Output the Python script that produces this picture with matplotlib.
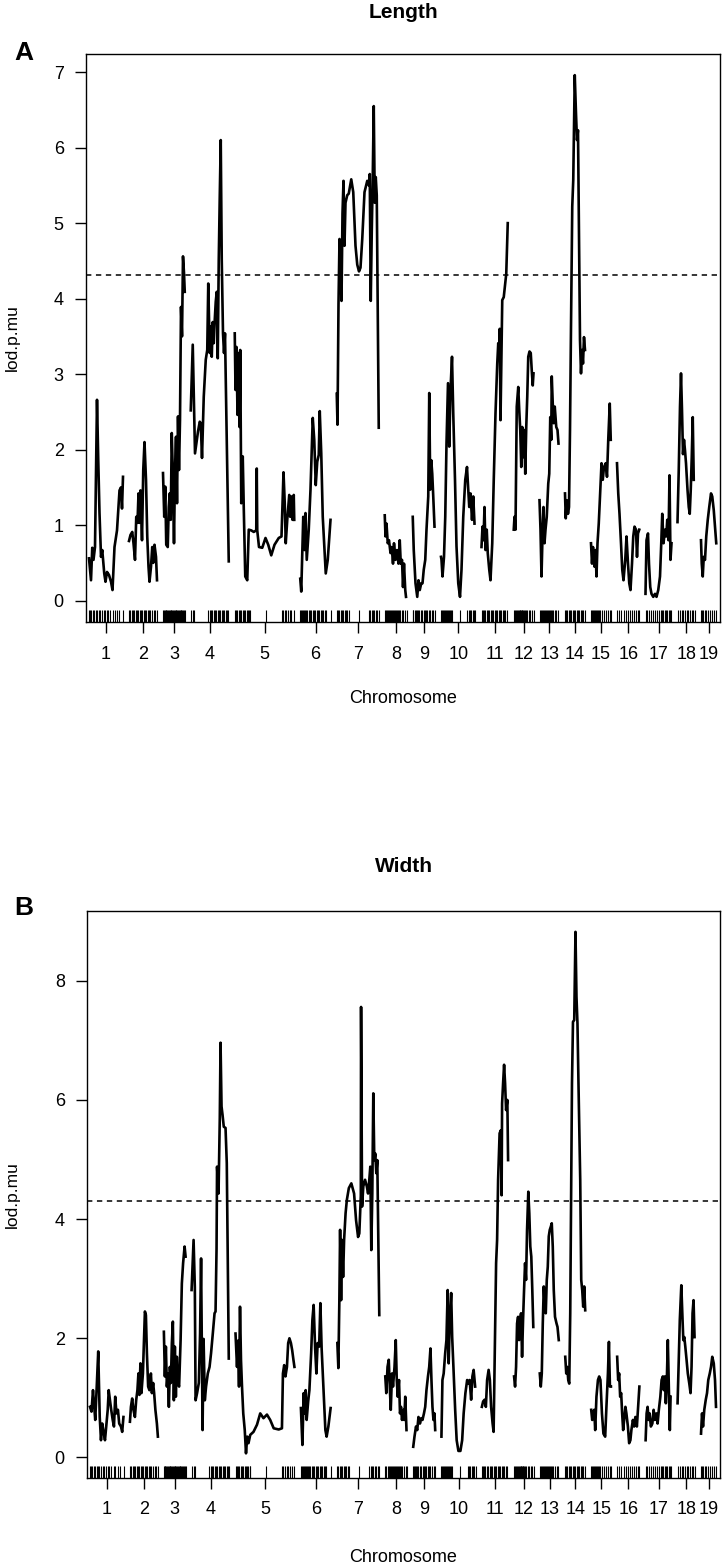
import numpy as np
import matplotlib
matplotlib.use('Agg')
import matplotlib.pyplot as plt

plt.rcParams['font.family'] = ['Liberation Sans', 'DejaVu Sans']

# chromosome layout (cM) and LOD threshold
chrom_names = [str(i) for i in range(1, 20)]
chrom_len = [136, 112, 87, 152, 238, 122, 168, 88, 89, 138, 105, 79, 78, 80, 80, 90, 104, 70, 64]
gap = 24
threshold = 4.31

# panel A : Length  (positions in cM within chromosome, lod.p.mu)
length_pos = [
    [0, 8, 13, 18, 24, 32, 37, 42, 48, 53, 61, 66, 72, 80, 88, 94, 102, 112, 122, 128, 132, 136],
    [0, 6, 13, 18, 24, 29, 34, 38, 42, 46, 52, 57, 62, 68, 73, 78, 82, 88, 93, 97, 102, 108, 112],
    [0, 5, 9, 13, 19, 23, 27, 31, 35, 39, 44, 48, 52, 56, 60, 64, 68, 72, 76, 80, 84, 87],
    [0, 8, 17, 29, 36, 40, 45, 52, 60, 66, 70, 76, 80, 84, 88, 92, 96, 100, 104, 108, 112, 116, 120, 124, 129, 133, 137, 152],
    [0, 3, 7, 11, 15, 19, 22, 26, 32, 36, 42, 50, 56, 66, 76, 86, 88, 90, 97, 110, 123, 134, 146, 159, 176, 187, 195, 200, 204, 210, 218, 222, 226, 231, 236, 238],
    [0, 4, 12, 17, 21, 26, 34, 41, 50, 56, 62, 68, 74, 78, 84, 90, 102, 110, 121],
    [0, 3, 7, 11, 15, 19, 23, 27, 31, 35, 42, 48, 58, 66, 75, 82, 89, 95, 102, 111, 122, 129, 132, 136, 140, 144, 148, 152, 156, 160, 168],
    [0, 3, 7, 12, 17, 23, 28, 33, 37, 43, 49, 55, 60, 64, 69, 73, 77, 82, 85],
    [0, 4, 11, 18, 23, 28, 34, 39, 44, 50, 55, 62, 66, 70, 74, 78, 82, 87],
    [0, 2, 6, 12, 17, 22, 28, 33, 38, 44, 49, 56, 62, 69, 76, 82, 89, 97, 104, 109, 113, 118, 124, 129, 134],
    [0, 4, 8, 12, 16, 21, 25, 31, 36, 43, 49, 56, 63, 67, 71, 73, 76, 83, 89, 99, 105],
    [0, 3, 7, 12, 18, 22, 26, 30, 34, 38, 42, 46, 50, 54, 58, 63, 68, 72, 76, 79],
    [0, 4, 8, 12, 16, 20, 24, 29, 35, 39, 43, 47, 49, 53, 57, 61, 67, 72, 76],
    [0, 3, 7, 12, 16, 20, 24, 29, 33, 39, 44, 48, 52, 60, 64, 68, 72, 76, 80],
    [0, 4, 8, 14, 18, 22, 26, 31, 36, 42, 47, 52, 59, 64, 69, 75, 79],
    [0, 5, 10, 16, 21, 26, 33, 38, 44, 49, 54, 60, 65, 70, 76, 80, 84, 89],
    [0, 4, 10, 14, 19, 24, 31, 38, 44, 51, 58, 63, 67, 72, 78, 83, 87, 92, 96, 100, 104],
    [0, 5, 10, 14, 18, 22, 26, 30, 34, 40, 45, 49, 53, 57, 61, 65],
    [0, 3, 7, 11, 16, 21, 27, 33, 40, 45, 51, 56, 61],
]
length_lod = [
    [0.56, 0.27, 0.70, 0.54, 0.71, 2.66, 1.86, 1.16, 0.58, 0.67, 0.36, 0.25, 0.38, 0.34, 0.25, 0.14, 0.71, 0.93, 1.46, 1.50, 1.22, 1.64],
    [0.79, 0.87, 0.91, 0.76, 0.54, 1.11, 1.03, 1.42, 1.03, 1.46, 0.80, 1.73, 2.10, 1.60, 0.85, 0.45, 0.25, 0.45, 0.71, 0.50, 0.74, 0.58, 0.27],
    [1.69, 1.11, 1.51, 0.74, 0.71, 1.24, 1.42, 1.07, 2.22, 1.73, 0.76, 1.73, 2.17, 1.29, 2.44, 1.73, 2.39, 3.89, 3.50, 4.56, 4.34, 4.09],
    [2.52, 3.39, 1.95, 2.24, 2.37, 2.35, 1.89, 2.70, 3.19, 3.32, 4.20, 3.28, 3.63, 3.23, 3.69, 3.41, 3.72, 3.96, 4.09, 3.21, 4.51, 5.35, 6.10, 4.51, 3.54, 3.28, 3.54, 0.52],
    [3.54, 2.79, 3.36, 2.46, 3.28, 2.30, 3.32, 1.29, 1.91, 1.24, 0.32, 0.27, 0.94, 0.93, 0.91, 0.93, 1.75, 0.93, 0.71, 0.70, 0.83, 0.74, 0.60, 0.74, 0.83, 0.85, 1.70, 1.29, 0.76, 1.07, 1.40, 1.11, 1.38, 1.07, 1.40, 1.07],
    [0.29, 0.12, 1.11, 0.67, 1.16, 0.54, 0.94, 1.47, 2.42, 2.13, 1.53, 1.84, 1.93, 2.51, 1.95, 1.11, 0.36, 0.54, 1.07],
    [2.74, 2.33, 3.93, 4.79, 4.41, 3.97, 5.13, 5.56, 4.70, 5.27, 5.37, 5.39, 5.58, 5.41, 4.70, 4.45, 4.36, 4.41, 4.79, 5.41, 5.56, 5.50, 5.65, 3.97, 4.88, 5.61, 6.55, 5.27, 5.61, 5.37, 2.29],
    [1.13, 0.85, 1.02, 0.76, 0.80, 0.63, 0.71, 0.49, 0.76, 0.54, 0.67, 0.49, 0.80, 0.49, 0.54, 0.18, 0.49, 0.14, 0.05],
    [1.11, 0.67, 0.23, 0.05, 0.27, 0.14, 0.23, 0.23, 0.41, 0.54, 0.94, 1.38, 2.75, 1.47, 1.86, 1.68, 1.38, 0.98],
    [0.58, 0.54, 0.32, 0.58, 1.11, 2.08, 2.88, 2.04, 2.79, 3.23, 2.48, 1.60, 0.72, 0.23, 0.05, 0.41, 1.11, 1.60, 1.77, 1.47, 1.24, 1.42, 1.07, 1.38, 1.02],
    [0.71, 0.98, 0.80, 1.24, 0.67, 0.94, 0.63, 0.41, 0.27, 0.76, 1.60, 2.48, 3.14, 3.41, 3.19, 3.60, 2.39, 3.98, 4.02, 4.33, 5.00],
    [0.94, 1.11, 0.94, 2.57, 2.83, 2.52, 2.26, 1.77, 2.30, 1.90, 2.26, 1.68, 2.30, 2.70, 3.23, 3.30, 3.28, 3.05, 2.85, 3.01],
    [1.33, 0.94, 0.32, 0.85, 1.24, 0.76, 0.94, 1.11, 1.55, 1.68, 2.43, 2.13, 2.97, 2.61, 2.35, 2.57, 2.30, 2.26, 2.08],
    [1.42, 1.09, 1.33, 1.15, 1.24, 2.26, 3.63, 5.22, 5.57, 6.96, 6.45, 6.10, 6.23, 3.45, 3.01, 3.32, 3.14, 3.49, 3.32],
    [0.76, 0.49, 0.71, 0.45, 0.67, 0.32, 0.76, 1.02, 1.38, 1.82, 1.60, 1.77, 1.82, 1.64, 2.13, 2.61, 2.13],
    [1.82, 1.42, 1.15, 0.76, 0.41, 0.27, 0.54, 0.85, 0.49, 0.23, 0.14, 0.49, 0.85, 0.98, 0.94, 0.58, 0.89, 0.94],
    [0.09, 0.80, 0.89, 0.49, 0.18, 0.09, 0.05, 0.09, 0.05, 0.14, 0.32, 0.76, 1.15, 0.76, 0.94, 0.85, 1.07, 0.80, 1.66, 0.54, 0.76],
    [1.04, 1.73, 2.57, 3.01, 2.52, 1.94, 2.13, 1.99, 1.82, 1.47, 1.24, 1.15, 1.47, 1.90, 2.43, 1.60],
    [0.80, 0.49, 0.32, 0.58, 0.54, 0.85, 1.07, 1.24, 1.42, 1.38, 1.20, 0.98, 0.76],
]

# panel B : Width
width_pos = [
    [0, 6, 12, 17, 21, 27, 33, 39, 44, 49, 55, 60, 65, 71, 75, 80, 85, 91, 96, 101, 106, 112, 117, 124, 129, 134],
    [0, 4, 9, 14, 20, 25, 30, 34, 38, 42, 46, 52, 60, 64, 68, 73, 78, 84, 88, 93, 97, 102, 108, 112],
    [0, 4, 8, 12, 16, 20, 24, 28, 32, 36, 40, 44, 48, 52, 56, 61, 67, 72, 77, 83, 87],
    [0, 8, 13, 16, 22, 29, 34, 38, 44, 48, 53, 58, 65, 72, 78, 85, 92, 96, 100, 102, 108, 113, 116, 120, 124, 129, 136, 141, 149],
    [0, 6, 10, 14, 18, 22, 26, 31, 37, 42, 47, 52, 59, 72, 86, 99, 112, 126, 139, 153, 173, 186, 190, 195, 200, 206, 211, 216, 222, 227, 232, 236],
    [0, 6, 11, 15, 19, 23, 29, 34, 41, 46, 51, 57, 62, 67, 73, 78, 83, 90, 98, 103, 110, 119],
    [0, 4, 8, 11, 15, 19, 23, 27, 33, 38, 46, 56, 67, 75, 83, 88, 94, 95, 99, 104, 111, 118, 123, 128, 132, 136, 140, 144, 148, 152, 156, 160, 168],
    [0, 4, 9, 14, 18, 22, 27, 31, 37, 42, 46, 50, 55, 59, 63, 67, 72, 76, 80, 85],
    [0, 5, 11, 16, 21, 27, 32, 37, 43, 48, 53, 59, 64, 69, 73, 77, 81, 85, 88],
    [0, 4, 9, 15, 20, 25, 29, 33, 39, 43, 48, 55, 61, 68, 76, 83, 89, 96, 103, 108, 113, 119, 124, 129, 135],
    [0, 5, 11, 16, 21, 27, 32, 37, 43, 47, 52, 57, 61, 65, 71, 76, 79, 81, 85, 89, 93, 97, 102, 105],
    [0, 4, 8, 12, 16, 20, 24, 28, 32, 36, 40, 44, 48, 52, 57, 61, 65, 69, 73, 77],
    [0, 4, 8, 12, 16, 20, 24, 28, 32, 36, 40, 44, 48, 52, 56, 61, 67, 71, 76],
    [0, 4, 8, 12, 16, 20, 24, 27, 31, 36, 41, 45, 49, 53, 60, 64, 68, 72, 76, 80],
    [0, 4, 8, 12, 16, 21, 27, 32, 37, 43, 49, 56, 61, 67, 71, 75, 79],
    [0, 4, 8, 12, 16, 20, 24, 28, 33, 37, 43, 48, 53, 57, 63, 68, 73, 79, 84, 89],
    [0, 4, 8, 12, 16, 21, 27, 32, 37, 43, 48, 53, 59, 64, 69, 73, 77, 81, 85, 89, 93, 97, 100],
    [0, 4, 9, 15, 19, 23, 27, 31, 36, 41, 47, 52, 56, 60, 64, 68],
    [0, 4, 8, 13, 19, 24, 29, 35, 40, 45, 51, 56, 60],
]
width_lod = [
    [0.85, 0.77, 1.13, 0.85, 0.63, 1.19, 1.78, 0.68, 0.29, 0.57, 0.41, 0.29, 0.52, 0.80, 1.13, 0.96, 0.80, 0.63, 0.52, 1.02, 0.74, 0.80, 0.57, 0.52, 0.43, 0.68],
    [0.60, 0.85, 0.99, 0.80, 0.68, 0.96, 1.13, 1.41, 1.05, 1.58, 1.08, 1.41, 2.45, 2.39, 1.75, 1.19, 1.13, 1.41, 1.08, 1.25, 1.08, 0.80, 0.57, 0.35],
    [2.11, 1.36, 1.86, 1.19, 1.41, 0.85, 1.52, 1.25, 1.92, 2.28, 0.96, 1.86, 1.02, 1.69, 1.25, 1.19, 1.97, 2.92, 3.26, 3.54, 3.37],
    [2.81, 3.65, 2.86, 0.96, 1.08, 1.25, 2.08, 3.34, 0.46, 1.99, 0.96, 1.19, 1.41, 1.52, 1.75, 2.08, 2.42, 2.45, 3.50, 4.88, 4.43, 5.70, 6.96, 5.89, 5.75, 5.55, 5.53, 4.94, 1.66],
    [2.08, 1.52, 1.96, 1.19, 2.53, 1.63, 1.19, 0.74, 0.46, 0.07, 0.35, 0.24, 0.38, 0.43, 0.55, 0.74, 0.66, 0.72, 0.63, 0.49, 0.47, 0.49, 1.41, 1.55, 1.36, 1.52, 1.92, 2.00, 1.92, 1.80, 1.64, 1.52],
    [0.83, 0.21, 1.08, 0.74, 1.13, 0.63, 0.94, 1.13, 1.75, 2.31, 2.56, 1.83, 1.41, 1.92, 1.86, 2.59, 1.83, 1.19, 0.46, 0.35, 0.52, 0.83],
    [1.92, 1.50, 2.64, 3.82, 2.64, 3.65, 3.03, 3.65, 4.10, 4.32, 4.52, 4.60, 4.43, 3.98, 3.70, 3.76, 4.39, 7.56, 4.21, 4.55, 4.66, 4.55, 4.43, 4.66, 4.88, 3.48, 4.43, 6.11, 4.99, 5.10, 4.77, 4.99, 2.39],
    [1.36, 1.08, 1.52, 1.64, 1.19, 0.80, 1.41, 1.19, 1.52, 1.97, 1.30, 1.02, 1.30, 0.74, 0.85, 0.63, 0.80, 0.63, 1.02, 0.46],
    [0.18, 0.35, 0.52, 0.46, 0.68, 0.57, 0.66, 0.63, 0.74, 0.85, 1.13, 1.36, 1.52, 1.83, 1.30, 0.85, 0.63, 0.74, 0.46],
    [0.35, 1.30, 1.41, 1.75, 1.97, 2.81, 1.58, 2.25, 2.76, 2.02, 1.52, 0.80, 0.29, 0.11, 0.11, 0.29, 0.74, 1.08, 1.30, 1.24, 1.30, 0.97, 1.36, 1.47, 1.19],
    [0.85, 0.94, 0.97, 0.85, 1.30, 1.47, 1.30, 0.85, 0.57, 0.43, 1.86, 3.26, 3.65, 4.66, 5.44, 5.49, 4.40, 5.94, 6.28, 6.59, 6.28, 5.83, 6.00, 4.99],
    [1.36, 1.19, 1.52, 2.25, 2.36, 1.97, 2.31, 2.42, 1.69, 2.31, 2.81, 3.26, 2.98, 3.82, 4.46, 4.10, 3.54, 3.37, 2.81, 2.19],
    [1.41, 1.19, 1.41, 2.25, 2.87, 2.53, 2.42, 2.98, 3.20, 3.71, 3.82, 3.87, 3.93, 3.54, 2.81, 2.36, 2.25, 2.19, 1.97],
    [1.69, 1.41, 1.52, 1.30, 1.24, 2.42, 4.66, 6.28, 7.31, 7.34, 8.82, 7.73, 7.28, 6.28, 4.66, 2.98, 2.81, 2.53, 2.87, 2.47],
    [0.80, 0.63, 0.74, 0.80, 0.46, 1.02, 1.30, 1.36, 1.30, 0.74, 0.40, 0.35, 0.85, 1.41, 1.94, 1.19, 1.19],
    [1.69, 1.30, 1.41, 1.02, 1.08, 0.74, 0.46, 0.63, 0.85, 0.74, 0.52, 0.24, 0.29, 0.46, 0.63, 0.52, 0.68, 0.52, 0.85, 1.19],
    [0.29, 0.74, 0.85, 0.63, 0.74, 0.52, 0.57, 0.80, 0.63, 0.74, 0.57, 0.80, 1.02, 1.30, 1.36, 1.13, 1.36, 0.91, 1.30, 1.97, 1.19, 0.46, 1.02],
    [0.91, 1.52, 2.31, 2.89, 2.42, 1.97, 2.02, 1.86, 1.64, 1.41, 1.24, 1.08, 1.52, 2.42, 2.64, 2.02],
    [0.40, 0.74, 0.52, 0.80, 0.97, 1.08, 1.30, 1.41, 1.52, 1.69, 1.58, 1.30, 0.85],
]

# marker positions (rug)
marker_pos = [
    [0, 5, 9, 16, 21, 28, 33, 38, 45, 53, 58, 65, 72, 77, 85, 96, 102, 112, 120, 136],
    [0, 5, 11, 16, 21, 27, 32, 37, 43, 48, 53, 59, 64, 69, 75, 80, 85, 91, 99, 104, 112],
    [0, 3, 6, 10, 13, 16, 20, 23, 26, 30, 33, 36, 40, 43, 46, 50, 53, 56, 60, 63, 66, 70, 73, 76, 80, 83, 87],
    [1, 8, 14, 70, 76, 81, 86, 92, 97, 102, 108, 113, 118, 124, 129, 134, 140, 145, 150],
    [0, 4, 10, 15, 20, 26, 31, 36, 42, 47, 52, 58, 60, 123, 187, 192, 199, 206, 212, 219, 226, 235],
    [0, 4, 8, 12, 16, 20, 24, 28, 33, 38, 43, 49, 54, 59, 65, 70, 75, 81, 86, 91, 97, 102, 121],
    [0, 4, 10, 15, 20, 26, 31, 36, 42, 47, 87, 128, 134, 139, 144, 150, 155, 162, 168],
    [0, 4, 9, 13, 17, 21, 25, 29, 33, 37, 41, 45, 49, 53, 57, 62, 67, 74, 82, 87],
    [0, 2, 7, 11, 15, 20, 26, 31, 38, 44, 48, 52, 58, 63, 68, 75, 82, 87],
    [0, 2, 6, 10, 14, 18, 22, 26, 30, 34, 38, 44, 76, 105, 110, 116, 121, 126, 132, 137],
    [0, 4, 9, 14, 20, 25, 31, 36, 41, 47, 52, 57, 63, 68, 73, 79, 84, 89, 95, 100],
    [0, 3, 7, 11, 15, 19, 23, 26, 28, 31, 34, 36, 39, 43, 48, 54, 59, 66, 72, 79],
    [0, 4, 8, 12, 16, 20, 24, 28, 32, 36, 40, 44, 48, 53, 60, 67, 73],
    [0, 4, 9, 15, 20, 25, 31, 36, 41, 47, 52, 57, 63, 68, 73, 80],
    [0, 4, 8, 12, 16, 20, 24, 28, 32, 36, 44, 52, 60, 68, 76, 80],
    [0, 9, 17, 26, 34, 42, 50, 58, 66, 74, 82, 89],
    [0, 7, 15, 23, 31, 39, 47, 55, 60, 66, 71, 76, 82, 87, 92, 98, 103],
    [0, 9, 16, 22, 29, 36, 42, 49, 56, 62, 68],
    [0, 4, 9, 15, 20, 28, 36, 44, 52, 60],
]

# genome coordinates: chromosomes laid side by side with a gap
starts = []
s = gap / 2
for L in chrom_len:
    starts.append(s)
    s += L + gap
x_end = s - gap / 2
mids = [st + L / 2 for st, L in zip(starts, chrom_len)]


def lod_panel(ax, pos, lod, ylim, yticks):
    for i in range(len(chrom_len)):
        ax.plot(starts[i] + np.array(pos[i]), lod[i], color='black', lw=1.9)
        ax.vlines(starts[i] + np.array(marker_pos[i]), 0, 0.021,
                  transform=ax.get_xaxis_transform(), colors='black', lw=0.8)
    ax.axhline(threshold, color='black', lw=1.1, ls=(0, (3.5, 3)))
    ax.set_xlim(0, x_end)
    ax.set_ylim(*ylim)
    ax.set_yticks(yticks)
    ax.set_xticks(mids)
    ax.set_xticklabels(chrom_names)
    ax.tick_params(direction='out', length=8, width=1, labelsize=13, pad=8)
    ax.tick_params(axis='x', pad=9)
    for sp in ax.spines.values():
        sp.set_linewidth(1)


W, H = 723, 1564
fig = plt.figure(figsize=(W / 100, H / 100), dpi=100)

axA = fig.add_axes([86 / W, 1 - 622 / H, 634 / W, 568 / H])
lod_panel(axA, length_pos, length_lod, (-0.283, 7.24), range(0, 8))
axB = fig.add_axes([87 / W, 1 - 1477.7 / H, 633 / W, 566.7 / H])
lod_panel(axB, width_pos, width_lod, (-0.339, 9.17), [0, 2, 4, 6, 8])

# titles, panel letters and axis labels
fig.text(403 / W, 1 - 12 / H, 'Length', ha='center', va='center', fontsize=15, fontweight='bold')
fig.text(404 / W, 1 - 866 / H, 'Width', ha='center', va='center', fontsize=15, fontweight='bold')
fig.text(24 / W, 1 - 53 / H, 'A', ha='center', va='center', fontsize=19, fontweight='bold')
fig.text(24 / W, 1 - 908 / H, 'B', ha='center', va='center', fontsize=19, fontweight='bold')
for yl, yx in [(338, 699), (1195, 1557)]:
    fig.text(12 / W, 1 - yl / H, 'lod.p.mu', rotation=90, ha='center', va='center', fontsize=12.5)
    fig.text(403 / W, 1 - yx / H, 'Chromosome', ha='center', va='center', fontsize=13)

fig.savefig('out.png', dpi=100)
